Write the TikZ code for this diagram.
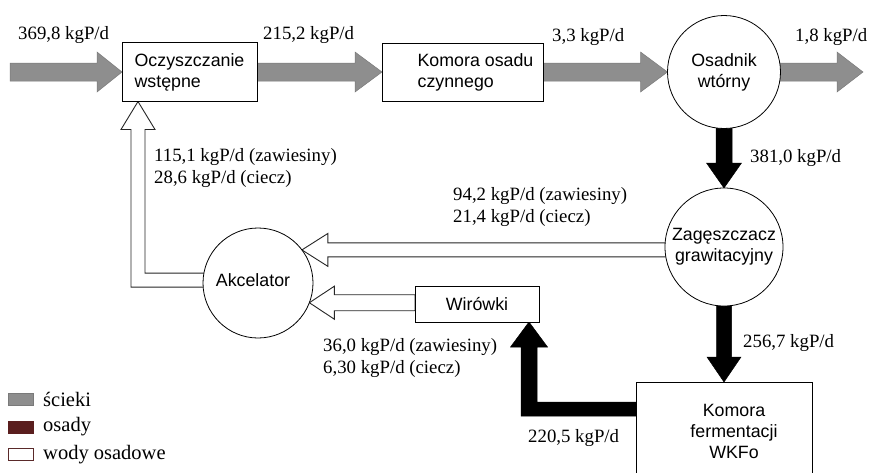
\documentclass[tikz,border=0pt]{standalone}
\usepackage{fontspec}
\setmainfont{Liberation Serif}
\setsansfont{Liberation Sans}
\usetikzlibrary{calc,backgrounds}
\definecolor{sewage}{HTML}{8E8E8E}
\definecolor{sewageline}{HTML}{7A7A7A}
\definecolor{sludge}{HTML}{5A1E1E}
\definecolor{legline}{HTML}{5A2A2A}
% #1 style, #2 from, #3 tip, #4 half shaft, #5 half head, #6 head length
\newcommand\blockarrow[6]{%
  \path[#1] let \p1=(#2), \p2=(#3), \n1={atan2(\y2-\y1,\x2-\x1)} in
    ($(\p1)+({\n1+90}:#4pt)$)
    -- ($(\p2)+({\n1+180}:#6pt)+({\n1+90}:#4pt)$)
    -- ($(\p2)+({\n1+180}:#6pt)+({\n1+90}:#5pt)$)
    -- (\p2)
    -- ($(\p2)+({\n1+180}:#6pt)+({\n1-90}:#5pt)$)
    -- ($(\p2)+({\n1+180}:#6pt)+({\n1-90}:#4pt)$)
    -- ($(\p1)+({\n1-90}:#4pt)$) -- cycle;}
\begin{document}
\begin{tikzpicture}[x=1pt,y=-1pt,
  box/.style={draw,line width=0.8pt,fill=white,inner sep=0pt,outer sep=0pt},
  circ/.style={draw,circle,line width=0.8pt,fill=white,inner sep=0pt,outer sep=0pt},
  sf/.style={font=\sffamily\fontsize{17.8}{21}\selectfont,align=left},
  lab/.style={font=\fontsize{18.8}{22}\selectfont,inner sep=0pt,anchor=west,align=left},
  leglab/.style={font=\fontsize{20.5}{24}\selectfont,inner sep=0pt,anchor=west},
  grayarrow/.style={fill=sewage,draw=sewageline,line width=0.5pt},
  blackarrow/.style={fill=black,draw=black,line width=0.5pt},
  whitearrow/.style={fill=white,draw=black!85,line width=0.9pt,line join=miter},
  legbox/.style={minimum width=25pt,minimum height=12pt,inner sep=0pt,outer sep=0pt}]
\useasboundingbox (0,0) rectangle (870,472);

% nodes
\node[box,sf,minimum width=135pt,minimum height=59pt] (oczy) at (189.5,72) {Oczyszczanie\\wstępne};
\node[box,minimum width=161pt,minimum height=58pt] (kom) at (462.5,72) {};
\node[sf,inner sep=0pt] (komt) at (475.5,72) {Komora osadu\\czynnego};
\node[circ,sf,align=center,minimum size=113pt] (osad) at (724,72) {Osadnik\\wtórny};
\node[circ,sf,align=center,minimum size=118pt] (zag) at (724,247) {Zagęszczacz\\grawitacyjny};
\node[box,minimum width=176pt,minimum height=110pt,anchor=north] (ferm) at (724,382) {};
\node[sf,align=center,inner sep=0pt] (fermt) at (734,431) {Komora\\fermentacji\\WKFo};
\node[circ,minimum size=110pt] (akc) at (258,283) {};
\node[sf,inner sep=0pt] (akct) at (253,280) {Akcelator};
\node[box,sf,minimum width=124pt,minimum height=36pt] (wir) at (477,304) {Wirówki};

\coordinate (src) at (10,72);
\coordinate (dst) at (863,72);

\begin{scope}[on background layer]
  % sewage
  \blockarrow{grayarrow}{src}{oczy.west}{9}{20}{25}
  \blockarrow{grayarrow}{oczy.east}{kom.west}{9}{20}{27}
  \blockarrow{grayarrow}{kom.east}{osad.west}{9}{20}{27}
  \blockarrow{grayarrow}{$(osad.east)+(-2,0)$}{dst}{9}{20}{26}
  % sludge
  \blockarrow{blackarrow}{$(osad.south)+(0,-2)$}{zag.north}{8}{17.5}{25}
  \blockarrow{blackarrow}{$(zag.south)+(0,-2)$}{ferm.north}{7.5}{17}{25}
  \coordinate (bs) at ($(ferm.north west)+(0,27)$);
  \coordinate (bt) at ($(wir.south east)+(-10,0)$);
  \coordinate (bc) at (bt |- bs);
  \draw[blackarrow] ($(bs)+(0,-7)$) -- ($(bc)+(8,-7)$) -- ($(bt)+(8,25)$)
    -- ($(bt)+(18.5,25)$) -- (bt) -- ($(bt)+(-18.5,25)$) -- ($(bt)+(-8,25)$)
    -- ($(bc)+(-8,7)$) -- ($(bs)+(0,7)$) -- cycle;
  % supernatant
  \coordinate (t1) at (zag.west |- akc.37);
  \blockarrow{whitearrow}{$(t1)+(3,0)$}{akc.37}{7}{16.5}{26}
  \coordinate (t2) at (wir.west |- akc.-21);
  \blockarrow{whitearrow}{t2}{akc.-21}{8}{16.5}{25}
  \coordinate (wt) at ($(oczy.south west)+(16,0)$);
  \coordinate (wa) at ($(akc.177)+(3,0)$);
  \coordinate (wc) at (wt |- wa);
  \draw[whitearrow] ($(wa)+(0,-7)$) -- ($(wc)+(7,-7)$) -- ($(wt)+(7,28)$)
    -- ($(wt)+(17,28)$) -- (wt) -- ($(wt)+(-17,28)$) -- ($(wt)+(-7,28)$)
    -- ($(wc)+(-7,7)$) -- ($(wa)+(0,7)$) -- cycle;
\end{scope}

% labels
\node[lab] (l1) at (18,35) {369,8 kgP/d};
\node[lab] (l2) at (263,35) {215,2 kgP/d};
\node[lab] (l3) at (552,37) {3,3 kgP/d};
\node[lab] (l4) at (795,37) {1,8 kgP/d};
\node[lab] (l5) at (750,158) {381,0 kgP/d};
\node[lab] (l6) at (154,168) {115,1 kgP/d (zawiesiny)\\28,6 kgP/d (ciecz)};
\node[lab] (l7) at (453,207) {94,2 kgP/d (zawiesiny)\\21,4 kgP/d (ciecz)};
\node[lab] (l8) at (743,343) {256,7 kgP/d};
\node[lab] (l9) at (323,358) {36,0 kgP/d (zawiesiny)\\6,30 kgP/d (ciecz)};
\node[lab] (l10) at (528,438) {220,5 kgP/d};

% legend
\node[legbox,draw=sewageline,fill=sewage] (k1) at (20.5,399.5) {};
\node[legbox,draw=sludge,fill=sludge] (k2) at (20.5,427) {};
\node[legbox,draw=legline,fill=white,line width=0.8pt] (k3) at (20.5,454.5) {};
\node[leglab] (k1t) at ($(k1.east)+(10,0)$) {ścieki};
\node[leglab] (k2t) at ($(k2.east)+(10,0)$) {osady};
\node[leglab] (k3t) at ($(k3.east)+(10,0)$) {wody osadowe};
\end{tikzpicture}
\end{document}
